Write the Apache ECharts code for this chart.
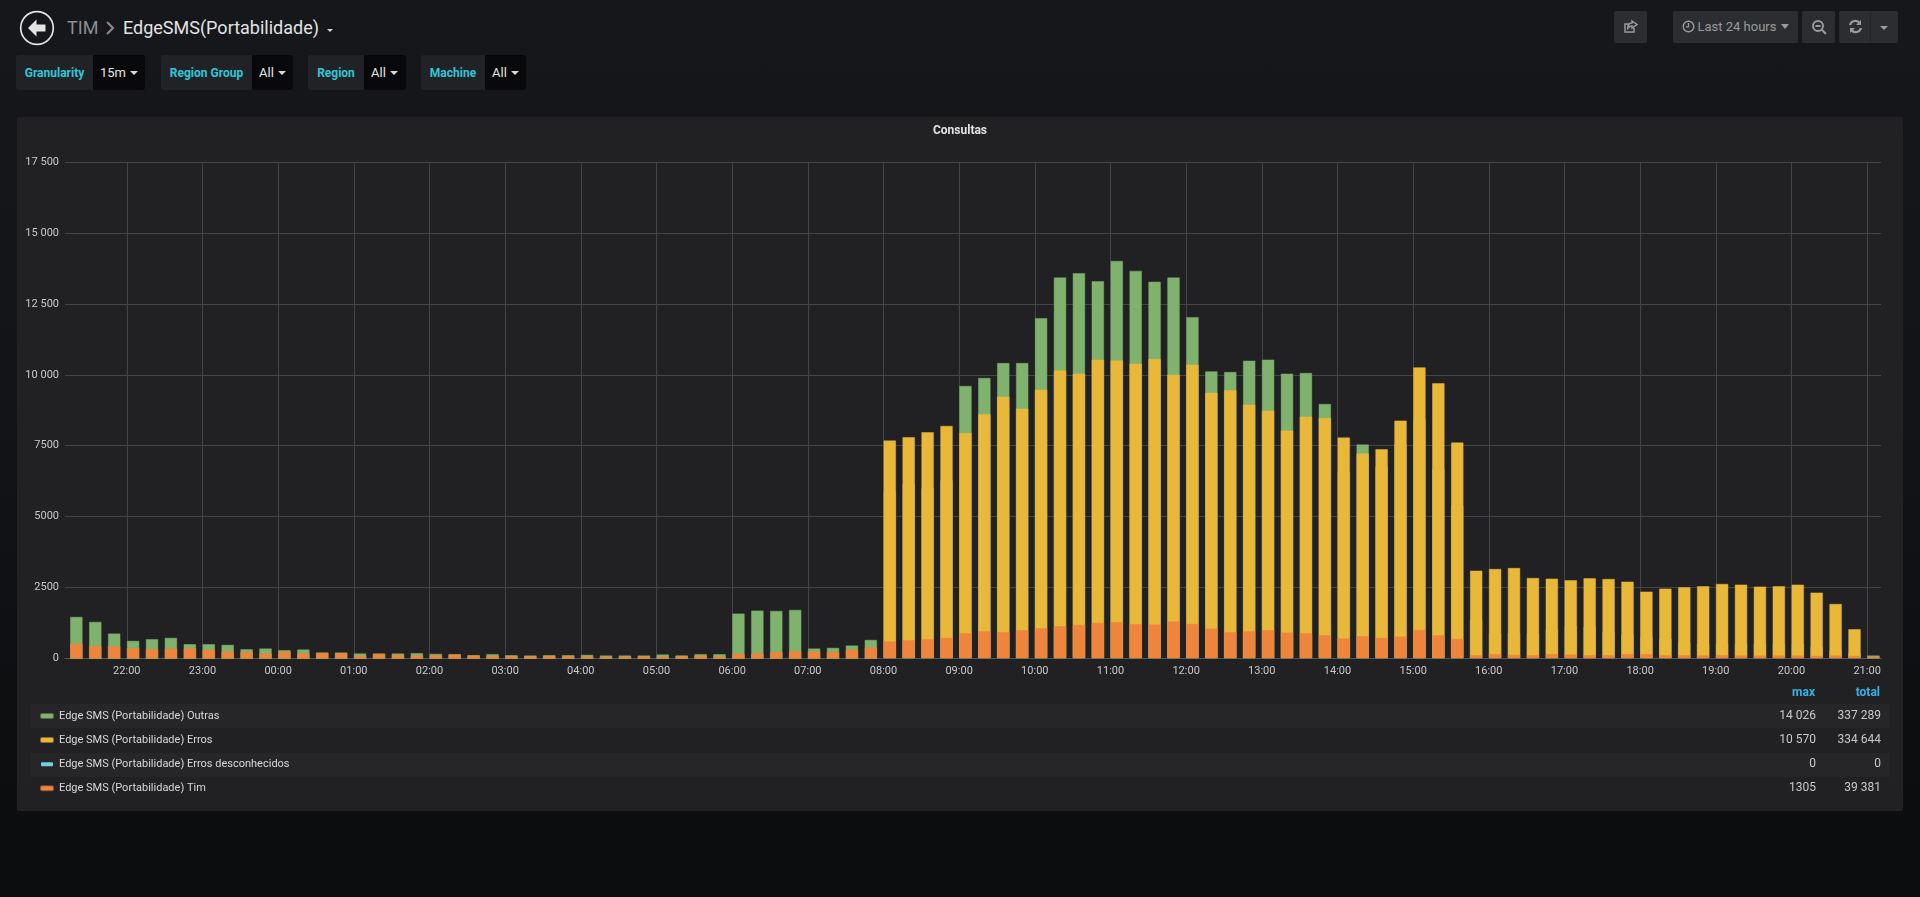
<!DOCTYPE html>
<html><head><meta charset="utf-8">
<script src="https://cdn.jsdelivr.net/npm/echarts@6/dist/echarts.min.js"></script>
<style>
html,body{margin:0;padding:0;width:1920px;height:897px;overflow:hidden;background:linear-gradient(180deg,#16171a 0,#141518 35%,#0b0c0e 100%);font-family:Roboto,sans-serif}
.abs{position:absolute;box-sizing:border-box}
#panel{left:17px;top:117px;width:1886px;height:694px;background:#212124;border-radius:2px}
#chart{left:0;top:0;width:1920px;height:897px}
.vlab{height:35px;top:55px;background:#212226;color:#2fc7d9;font-weight:700;font-size:12px;line-height:36px;text-align:center;border-radius:3px 0 0 3px;white-space:nowrap}
.vval{height:35px;top:55px;background:#09090b;color:#e3e3e3;font-size:13px;line-height:36px;border-radius:0 3px 3px 0;padding-left:7px;white-space:nowrap}
.caret{display:inline-block;width:0;height:0;border-left:4px solid transparent;border-right:4px solid transparent;border-top:4px solid #d8d9da;vertical-align:middle;margin-left:4px;position:relative;top:-1px}
.btn{top:11px;height:32px;background:#2c2d30;border-radius:2px;color:#9a9b9d;font-size:13px;line-height:32px;text-align:center;white-space:nowrap}
</style></head><body>
<div id="panel" class="abs"></div>

<svg class="abs" style="left:19px;top:10px" width="36" height="36" viewBox="0 0 36 36">
<circle cx="18" cy="18" r="16.3" fill="none" stroke="#e3e3e3" stroke-width="1.7"/>
<path d="M17.5 9.5 L9 18 L17.5 26.5 L17.5 21.5 L26.5 21.5 L26.5 14.5 L17.5 14.5 Z" fill="#e3e3e3"/></svg>
<div class="abs" style="left:67px;top:15px;font-size:18px;line-height:25px;color:#8e8e8e">TIM</div>
<svg class="abs" style="left:105px;top:20px" width="10" height="16" viewBox="0 0 10 16"><path d="M2 2 L8 8 L2 14" fill="none" stroke="#8e8e8e" stroke-width="2"/></svg>
<div class="abs" style="left:123px;top:15px;font-size:18px;line-height:25px;color:#e3e3e3;white-space:nowrap">EdgeSMS(Portabilidade)</div>
<div class="abs" style="left:327px;top:29px;width:0;height:0;border-left:3.5px solid transparent;border-right:3.5px solid transparent;border-top:3.5px solid #d8d9da"></div>

<div class="abs vlab" style="left:16px;width:77px">Granularity</div><div class="abs vval" style="left:93px;width:52px">15m<span class="caret"></span></div>
<div class="abs vlab" style="left:161px;width:91px">Region Group</div><div class="abs vval" style="left:252px;width:41px">All<span class="caret"></span></div>
<div class="abs vlab" style="left:308px;width:56px">Region</div><div class="abs vval" style="left:364px;width:42px">All<span class="caret"></span></div>
<div class="abs vlab" style="left:421px;width:64px">Machine</div><div class="abs vval" style="left:485px;width:41px">All<span class="caret"></span></div>

<div class="abs btn" style="left:1614px;width:33px"><svg width="16" height="16" viewBox="0 0 16 16" style="margin-top:8px"><path d="M11 9v4H2V5h4M9 2l5 3.5L9 9V7C6.5 7 5 8.5 4.5 10.5 4.5 7 6 4 9 4Z" fill="none" stroke="#9a9b9d" stroke-width="1.5"/></svg></div>
<div class="abs btn" style="left:1673px;width:125px"><svg width="13" height="13" viewBox="0 0 13 13" style="vertical-align:-2px;margin-right:3px"><circle cx="6.5" cy="6.5" r="5.3" fill="none" stroke="#9a9b9d" stroke-width="1.4"/><path d="M6.5 3v3.8H4" fill="none" stroke="#9a9b9d" stroke-width="1.3"/></svg>Last 24 hours<span class="caret" style="border-top-color:#9a9b9d;border-left-width:4.5px;border-right-width:4.5px;border-top-width:5px;margin-left:5px"></span></div>
<div class="abs btn" style="left:1802px;width:33px"><svg width="16" height="16" viewBox="0 0 16 16" style="margin-top:8px"><circle cx="7" cy="7" r="5" fill="none" stroke="#9a9b9d" stroke-width="2"/><path d="M10.8 10.8L15 15M4.5 7h5" stroke="#9a9b9d" stroke-width="2"/></svg></div>
<div class="abs btn" style="left:1839px;width:59px;text-align:left;padding-left:9px"><svg width="15" height="15" viewBox="0 0 15 15" style="margin-top:8px"><path d="M2 6a5.6 5.6 0 0 1 9.8-2M13 9a5.6 5.6 0 0 1-9.8 2" fill="none" stroke="#9a9b9d" stroke-width="2.2"/><path d="M13 1v5H8zM2 14V9h5z" fill="#9a9b9d"/></svg></div>
<div class="abs" style="left:1870px;top:11px;width:1px;height:32px;background:#252628"></div>
<div class="abs" style="left:1880px;top:26px;width:0;height:0;border-left:4px solid transparent;border-right:4px solid transparent;border-top:4.5px solid #9a9b9d"></div>

<div id="chart" class="abs"></div>
<script>
const yTickValues = [0, 2500, 5000, 7500, 10000, 12500, 15000, 17500];
const yTickLabels = ['0', '2500', '5000', '7500', '10 000', '12 500', '15 000', '17 500'];

const seriesNames = ['Edge SMS (Portabilidade) Outras', 'Edge SMS (Portabilidade) Erros', 'Edge SMS (Portabilidade) Erros desconhecidos', 'Edge SMS (Portabilidade) Tim'];
const seriesColors = ['#7EB26D', '#EAB839', '#6ED0E0', '#EF843C'];
const seriesBorders = ['rgba(126,178,109,0.5)', 'rgba(234,184,57,0.5)', 'rgba(110,208,224,0)', 'rgba(239,132,60,0.5)'];
const maxLabels = ['14 026', '10 570', '0', '1305'];
const totalLabels = ['337 289', '334 644', '0', '39 381'];

// each row: one hour of 15-minute buckets, first bucket 21:15
const outras = [
  1467, 1291, 880,
  622, 681, 728, 505,
  505, 481, 329, 352,
  294, 317, 211, 211,
  176, 176, 176, 188,
  164, 153, 117, 153,
  117, 106, 117, 117,
  129, 106, 106, 106,
  141, 106, 153, 152,
  1585, 1690, 1679, 1714,
  352, 376, 458, 657,
  5900, 6160, 6000, 6280,
  9615, 9897, 10425, 10425,
  12010, 13442, 13595, 13313,
  14026, 13677, 13290, 13442,
  12045, 10132, 10108, 10507,
  10543, 10049, 10073, 8981,
  6574, 7549, 6774, 7572,
  8453, 6692, 5400, 1350,
  880, 900, 880, 1020,
  1139, 1115, 939, 850,
  760, 700, 560, 530,
  530, 530, 530, 530,
  520, 410, 300, 180,
  106];
const erros = [
  0, 0, 0,
  0, 0, 0, 0,
  0, 0, 0, 0,
  0, 0, 0, 0,
  0, 0, 0, 0,
  0, 0, 0, 0,
  0, 0, 0, 0,
  0, 0, 0, 0,
  0, 0, 0, 0,
  0, 0, 0, 0,
  0, 0, 0, 0,
  7690, 7807, 7983, 8206,
  7960, 8617, 9240, 8817,
  9486, 10167, 10050, 10543,
  10519, 10402, 10570, 10014,
  10367, 9380, 9463, 8958,
  8746, 8042, 8535, 8488,
  7795, 7232, 7384, 8394,
  10272, 9709, 7619, 3099,
  3158, 3193, 2841, 2818,
  2759, 2829, 2806, 2712,
  2360, 2465, 2512, 2548,
  2630, 2606, 2536, 2548,
  2606, 2325, 1925, 1033,
  30];
const desconhecidos = [
  0, 0, 0,
  0, 0, 0, 0,  0, 0, 0, 0,  0, 0, 0, 0,  0, 0, 0, 0,
  0, 0, 0, 0,  0, 0, 0, 0,  0, 0, 0, 0,  0, 0, 0, 0,
  0, 0, 0, 0,  0, 0, 0, 0,  0, 0, 0, 0,  0, 0, 0, 0,
  0, 0, 0, 0,  0, 0, 0, 0,  0, 0, 0, 0,  0, 0, 0, 0,
  0, 0, 0, 0,  0, 0, 0, 0,  0, 0, 0, 0,  0, 0, 0, 0,
  0, 0, 0, 0,  0, 0, 0, 0,  0, 0, 0, 0,
  0];
const tim = [
  528, 446, 434,
  364, 329, 352, 364,
  305, 247, 223, 176,
  235, 176, 200, 188,
  94, 164, 129, 106,
  117, 141, 106, 94,
  94, 82, 94, 94,
  70, 59, 70, 82,
  70, 94, 106, 82,
  164, 176, 223, 258,
  246, 235, 317, 387,
  599, 646, 681, 728,
  892, 963, 927, 998,
  1068, 1139, 1186, 1256,
  1280, 1209, 1197, 1305,
  1221, 1057, 927, 963,
  998, 916, 892, 822,
  704, 787, 728, 775,
  1010, 822, 693, 117,
  153, 129, 117, 153,
  141, 117, 117, 153,
  153, 117, 117, 106,
  117, 106, 106, 106,
  106, 94, 106, 94,
  59];

const MIN = 60000;
const firstBucket = Date.UTC(2018, 0, 1, 21, 15);
// ECharts widens a time axis by half a bar each side when it holds bars, so ask for that much less
const barOverflow = 5.03 * MIN;
const axisStart = Date.UTC(2018, 0, 1, 21, 11) + barOverflow;
const axisEnd = Date.UTC(2018, 0, 2, 21, 11) - barOverflow;
// bars start at their bucket time: centre them half a bar width later
const barHalfMinutes = 5;
const bucketCentre = i => firstBucket + i * 15 * MIN + barHalfMinutes * MIN;
const toPoints = values => values.map((v, i) => [bucketCentre(i), v]);

const allValues = [outras, erros, desconhecidos, tim];
const pad = n => String(n).padStart(2, '0');
const font = 'Roboto, sans-serif';

const chart = echarts.init(document.getElementById('chart'), null, {renderer: 'canvas'});
chart.setOption({
  backgroundColor: 'transparent',
  animation: false,
  useUTC: true,
  title: {
    text: 'Consultas', left: 'center', top: 120,
    textStyle: {color: '#e3e3e3', fontSize: 12, fontWeight: 700, fontFamily: font}
  },
  graphic: [
    {type: 'rect', silent: true, z: -1, shape: {x: 30, y: 704, width: 1860, height: 24}, style: {fill: '#262628'}},
    {type: 'rect', silent: true, z: -1, shape: {x: 30, y: 753, width: 1860, height: 24}, style: {fill: '#262628'}},
    {type: 'text', silent: true, style: {x: 1815, y: 693, text: 'max', align: 'right', verticalAlign: 'middle', fill: '#33B5E5', font: '700 12px ' + font}},
    {type: 'text', silent: true, style: {x: 1880, y: 693, text: 'total', align: 'right', verticalAlign: 'middle', fill: '#33B5E5', font: '700 12px ' + font}}
  ],
  legend: {
    orient: 'vertical', left: 40, top: 710,
    padding: 0, itemWidth: 12, itemHeight: 4, itemGap: 12.1,
    icon: 'roundRect', selectedMode: false,
    data: seriesNames,
    formatter: name => {
      const i = seriesNames.indexOf(name);
      return `{n|${name}}{m|${maxLabels[i]}}{t|${totalLabels[i]}}`;
    },
    textStyle: {
      color: '#d8d9da', fontFamily: font, fontSize: 12, padding: [0, 0, 0, 1],
      rich: {
        n: {width: 1682, align: 'left', color: '#d8d9da', fontSize: 11, lineHeight: 14, fontFamily: font},
        m: {width: 75, align: 'right', color: '#c8c9ca', fontSize: 12, lineHeight: 14, fontFamily: font},
        t: {width: 65, align: 'right', color: '#c8c9ca', fontSize: 12, lineHeight: 14, fontFamily: font}
      }
    }
  },
  grid: {left: 65, right: 39, top: 162.3, bottom: 238.7, containLabel: false},
  xAxis: {
    type: 'time', min: axisStart, max: axisEnd,
    minInterval: 3600000, maxInterval: 3600000,
    axisLine: {show: true, lineStyle: {color: '#55565a', width: 1}},
    axisTick: {show: false},
    splitLine: {show: true, showMinLine: false, showMaxLine: false, lineStyle: {color: '#454548', width: 1}},
    axisLabel: {
      color: '#c8c9ca', fontSize: 11, fontFamily: font, margin: 7,
      showMinLabel: false, showMaxLabel: false, hideOverlap: false,
      formatter: v => { const d = new Date(v); return pad(d.getUTCHours()) + ':' + pad(d.getUTCMinutes()); }
    }
  },
  yAxis: {
    type: 'value', min: 0, max: 17500, interval: 2500,
    axisLine: {show: false}, axisTick: {show: false},
    splitLine: {show: true, lineStyle: {color: '#454548', width: 1}},
    axisLabel: {
      color: '#c8c9ca', fontSize: 11, fontFamily: font, margin: 6,
      formatter: v => yTickLabels[yTickValues.indexOf(v)]
    }
  },
  series: seriesNames.map((name, i) => ({
    name, type: 'bar', barWidth: 12.7, barGap: '-100%',
    data: toPoints(allValues[i]),
    itemStyle: {color: seriesColors[i], borderColor: seriesBorders[i], borderWidth: i === 2 ? 0 : 1},
    emphasis: {disabled: true},
    z: 2 + i
  }))
});
</script>
</body></html>
